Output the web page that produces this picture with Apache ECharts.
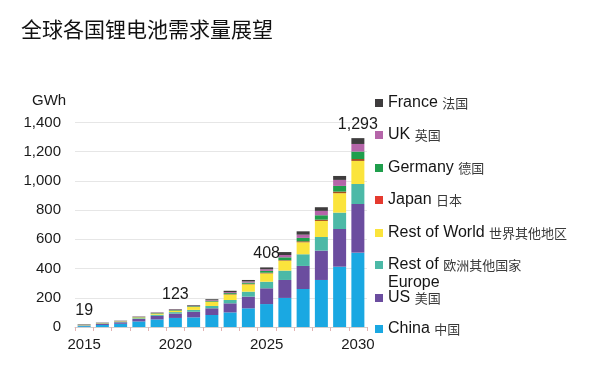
<!DOCTYPE html>
<html>
<head>
<meta charset="utf-8">
<script src="https://cdn.jsdelivr.net/npm/echarts@6/dist/echarts.min.js"></script>
<style>
html,body{margin:0;padding:0;background:#fff;}
#c{width:613px;height:390px;}
</style>
</head>
<body>
<div id="c"></div>
<script>
const years = ['2015','2016','2017','2018','2019','2020','2021','2022','2023','2024','2025','2026','2027','2028','2029','2030'];
const china   = [6, 14, 22, 38, 52, 62, 66, 82, 100, 128, 157, 199, 260, 322, 413, 509];
const us      = [4, 7, 10, 17, 24, 30, 38, 46, 62, 80, 108, 123, 158, 201, 258, 333];
const restEurope = [2, 2, 3, 5, 8, 10, 13, 16, 23, 34, 45, 64, 80, 93, 112, 137];
const restWorld  = [2, 2, 3, 5, 7, 9, 20, 28, 37, 50, 57, 68, 82, 110, 133, 158];
const japan   = [1, 1, 1, 1, 2, 2, 2, 2, 3, 4, 5, 4, 7, 9, 11, 13];
const germany = [1, 1, 1, 2, 3, 4, 4, 5, 7, 8, 12, 19, 23, 30, 39, 51];
const uk      = [1, 1, 1, 2, 2, 3, 3, 5, 7, 8, 11, 16, 22, 30, 41, 52];
const france  = [2, 2, 2, 2, 2, 3, 4, 6, 9, 10, 13, 20, 23, 25, 27, 40];
const labelledYears = ['2015','2020','2025','2030'];
const yTicks = [0, 200, 400, 600, 800, 1000, 1200, 1400];

const seriesDefs = [
  {key:'China', en:'China', cn:'中国', data:china, color:'#1aa8e2', legendColor:'#1aa8e2', cy:329},
  {key:'US', en:'US', cn:'美国', data:us, color:'#6b4d9f', legendColor:'#6b4d9f', cy:298},
  {key:'Rest of Europe', en:'Rest of', cn:'欧洲其他国家', en2:'Europe', data:restEurope, color:'#4cb9a7', legendColor:'#4cb9a7', cy:265},
  {key:'Rest of World', en:'Rest of World', cn:'世界其他地区', data:restWorld, color:'#fbe43c', legendColor:'#fbe43c', cy:233},
  {key:'Japan', en:'Japan', cn:'日本', data:japan, color:'#a6501f', legendColor:'#e53a2f', cy:200},
  {key:'Germany', en:'Germany', cn:'德国', data:germany, color:'#1f9e4c', legendColor:'#1f9e4c', cy:168},
  {key:'UK', en:'UK', cn:'英国', data:uk, color:'#b565a9', legendColor:'#b565a9', cy:135},
  {key:'France', en:'France', cn:'法国', data:france, color:'#3e3c3d', legendColor:'#3e3c3d', cy:103}
];

const totals = years.map((_, i) => seriesDefs.reduce((s, d) => s + d.data[i], 0));

const richStyles = {
  sp: {fontSize:16, lineHeight:18, fontFamily:'Liberation Sans, Arial, sans-serif'},
  en: {fontSize:16, lineHeight:18, color:'#151515', fontFamily:'Liberation Sans, Arial, sans-serif'},
  cn: {fontSize:13, lineHeight:18, color:'#3a3a3a', fontFamily:'Noto Sans CJK SC, sans-serif'}
};

const legends = seriesDefs.map(d => {
  const multi = !!d.en2;
  return {
    orient:'vertical',
    left:375,
    top: multi ? d.cy - 27 : d.cy - 9,
    padding:0,
    itemWidth:8,
    itemHeight:8,
    icon:'rect',
    selectedMode:false,
    data:[{name:d.key, itemStyle:{color:d.legendColor}}],
    formatter: () => multi
      ? '{sp| }\n{en|' + d.en + '} {cn|' + d.cn + '}\n{en|' + d.en2 + '}'
      : '{en|' + d.en + '} {cn|' + d.cn + '}',
    textStyle:{fontSize:16, lineHeight:18, color:'#151515', fontFamily:'Liberation Sans, Arial, sans-serif', rich:richStyles}
  };
});

const series = seriesDefs.map((d, si) => {
  const isTop = si === seriesDefs.length - 1;
  return {
    name:d.key,
    type:'bar',
    stack:'total',
    barWidth:13,
    itemStyle:{color:d.color},
    emphasis:{disabled:true},
    data: d.data.map((v, i) => {
      if (isTop && labelledYears.indexOf(years[i]) >= 0) {
        return {value:v, label:{show:true, position:'top', distance:6,
          formatter:() => totals[i].toLocaleString('en-US'),
          fontSize:16, color:'#1a1a1a', fontFamily:'Liberation Sans, Arial, sans-serif'}};
      }
      return v;
    })
  };
});

const chart = echarts.init(document.getElementById('c'));
chart.setOption({
  backgroundColor:'#ffffff',
  animation:false,
  title:{
    text:'全球各国锂电池需求量展望',
    left:16, top:14,
    textStyle:{fontSize:21, fontWeight:'normal', color:'#111', fontFamily:'Noto Sans CJK SC, sans-serif'}
  },
  graphic:[{
    type:'text', left:32, top:93,
    style:{text:'GWh', fontSize:15, fill:'#1a1a1a', fontFamily:'Liberation Sans, Arial, sans-serif'}
  }],
  legend:legends,
  grid:{left:75, right:246, top:122.5, bottom:63, containLabel:false},
  xAxis:{
    type:'category',
    data:years,
    boundaryGap:true,
    axisLine:{lineStyle:{color:'#cfcfcf'}},
    axisTick:{show:true, interval:0, length:4, lineStyle:{color:'#e2b3b3'}},
    axisLabel:{
      interval:(i) => labelledYears.indexOf(years[i]) >= 0,
      fontSize:15, color:'#1a1a1a', margin:10,
      fontFamily:'Liberation Sans, Arial, sans-serif'
    }
  },
  yAxis:{
    type:'value',
    min:yTicks[0], max:yTicks[yTicks.length-1], interval:yTicks[1]-yTicks[0],
    axisLine:{show:false},
    axisTick:{show:false},
    splitLine:{lineStyle:{color:'#e6e6e6'}},
    axisLabel:{fontSize:15, color:'#1a1a1a', margin:14, fontFamily:'Liberation Sans, Arial, sans-serif'}
  },
  series:series
});
</script>
</body>
</html>
